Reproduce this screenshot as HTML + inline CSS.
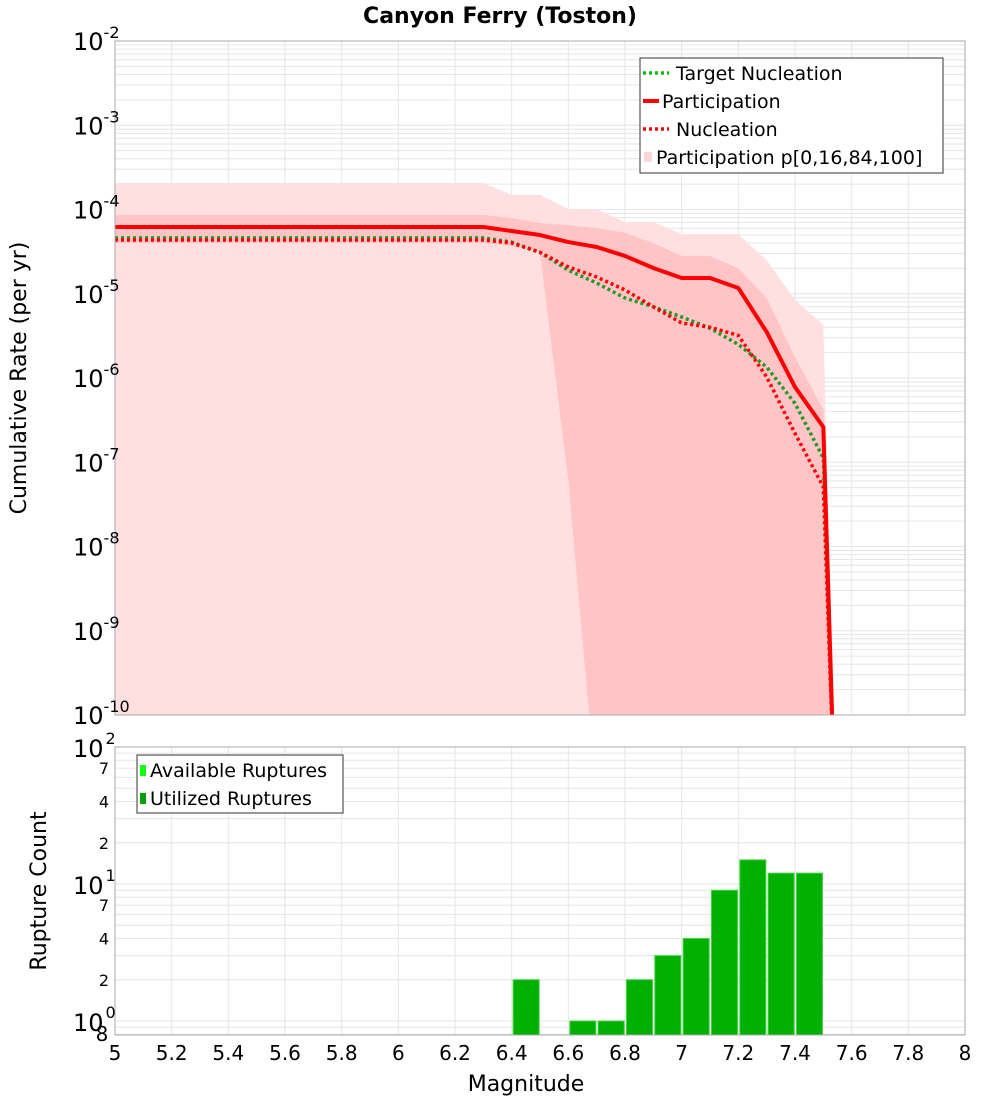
<!DOCTYPE html>
<html><head><meta charset="utf-8"><style>
body{margin:0;background:#fff;}
svg text{font-family:"DejaVu Sans","Liberation Sans",sans-serif;}
</style></head><body>
<svg id="c" width="1000" height="1100" viewBox="0 0 1000 1100" xmlns="http://www.w3.org/2000/svg"></svg>
<script>
const mags = [5.0,5.1,5.2,5.3,5.4,5.5,5.6,5.7,5.8,5.9,6.0,6.1,6.2,6.3,6.4,6.5,6.6,6.7,6.8,6.9,7.0,7.1,7.2,7.3,7.4,7.5,7.54];
const participation = [6.2e-5,6.2e-5,6.2e-5,6.2e-5,6.2e-5,6.2e-5,6.2e-5,6.2e-5,6.2e-5,6.2e-5,6.2e-5,6.2e-5,6.2e-5,6.2e-5,5.56e-5,4.98e-5,4.11e-5,3.59e-5,2.81e-5,2.02e-5,1.54e-5,1.54e-5,1.17e-5,3.52e-6,7.8e-7,2.62e-7,1e-11];
const targetNucleation = [4.6e-5,4.6e-5,4.6e-5,4.6e-5,4.6e-5,4.6e-5,4.6e-5,4.6e-5,4.6e-5,4.6e-5,4.6e-5,4.6e-5,4.6e-5,4.6e-5,4.1e-5,3.1e-5,1.9e-5,1.34e-5,8.9e-6,7.0e-6,5.3e-6,3.9e-6,2.5e-6,1.35e-6,5.0e-7,1.12e-7,1e-11];
const nucleation = [4.35e-5,4.35e-5,4.35e-5,4.35e-5,4.35e-5,4.35e-5,4.35e-5,4.35e-5,4.35e-5,4.35e-5,4.35e-5,4.35e-5,4.35e-5,4.35e-5,4.0e-5,3.1e-5,2.08e-5,1.58e-5,1.11e-5,7.0e-6,4.5e-6,4.0e-6,3.2e-6,1.03e-6,2.2e-7,5.1e-8,1e-11];
const p100 = [2.06e-4,2.06e-4,2.06e-4,2.06e-4,2.06e-4,2.06e-4,2.06e-4,2.06e-4,2.06e-4,2.06e-4,2.06e-4,2.06e-4,2.06e-4,2.06e-4,1.49e-4,1.49e-4,1.01e-4,1.01e-4,7.1e-5,7.1e-5,5.1e-5,5.1e-5,5.1e-5,2.5e-5,8.4e-6,4.3e-6,1e-11];
const p84 = [8.6e-5,8.6e-5,8.6e-5,8.6e-5,8.6e-5,8.6e-5,8.6e-5,8.6e-5,8.6e-5,8.6e-5,8.6e-5,8.6e-5,8.6e-5,8.6e-5,7.9e-5,6.9e-5,6.5e-5,6.0e-5,5.3e-5,4.0e-5,2.8e-5,2.8e-5,2.0e-5,8.9e-6,1.77e-6,4.2e-7,1e-11];
const p16 = [4.0e-5,4.0e-5,4.0e-5,4.0e-5,4.0e-5,4.0e-5,4.0e-5,4.0e-5,4.0e-5,4.0e-5,4.0e-5,4.0e-5,4.0e-5,4.0e-5,3.7e-5,3.1e-5,6.1e-8,1e-11,1e-11,1e-11,1e-11,1e-11,1e-11,1e-11,1e-11,1e-11,1e-11];
const p0 = [1e-11,1e-11,1e-11,1e-11,1e-11,1e-11,1e-11,1e-11,1e-11,1e-11,1e-11,1e-11,1e-11,1e-11,1e-11,1e-11,1e-11,1e-11,1e-11,1e-11,1e-11,1e-11,1e-11,1e-11,1e-11,1e-11,1e-11];
const barMags = [6.4,6.6,6.7,6.8,6.9,7.0,7.1,7.2,7.3,7.4];
const barCounts = [2,1,1,2,3,4,9,15,12,12];
const xTicks = [5,5.2,5.4,5.6,5.8,6,6.2,6.4,6.6,6.8,7,7.2,7.4,7.6,7.8,8];
const topDecades = [-2,-3,-4,-5,-6,-7,-8,-9,-10];
const botMinorLabels = [2,4,7,20,40,70];

const NS="http://www.w3.org/2000/svg", svg=document.getElementById('c');
function el(t,a,p){const e=document.createElementNS(NS,t);for(const k in a)e.setAttribute(k,a[k]);(p||svg).appendChild(e);return e;}
const L=115,R=965,T1=41,B1=715,T2=747,B2=1035;
const X=m=>L+(m-5)*(R-L)/3;
const Y1=v=>T1+(-2-Math.log10(v))*(B1-T1)/8;
const Y2=v=>1021-Math.log10(v)*137;

// clip paths
const defs=el('defs',{});
const c1=el('clipPath',{id:'c1'},defs);el('rect',{x:L,y:T1,width:R-L,height:B1-T1},c1);
const c2=el('clipPath',{id:'c2'},defs);el('rect',{x:L,y:T2,width:R-L,height:B2-T2},c2);

// grids
const g1=el('g',{'clip-path':'url(#c1)'});

for(let d=-10;d<-2;d++)for(let k=1;k<10;k++){const y=Y1(k*Math.pow(10,d));el('line',{x1:L,x2:R,y1:y,y2:y,stroke:'#e6e6e6','stroke-width':1},g1);}
xTicks.forEach(m=>el('line',{x1:X(m),x2:X(m),y1:T1,y2:B1,stroke:'#e6e6e6'},g1));
const g2=el('g',{'clip-path':'url(#c2)'});

for(let d=-1;d<2;d++)for(let k=1;k<10;k++){const y=Y2(k*Math.pow(10,d));el('line',{x1:L,x2:R,y1:y,y2:y,stroke:'#e6e6e6'},g2);}
xTicks.forEach(m=>el('line',{x1:X(m),x2:X(m),y1:T2,y2:B2,stroke:'#e6e6e6'},g2));

// bands
function band(up,lo,fill,name){let d='M'+mags.map((m,i)=>X(m)+','+Y1(up[i])).join('L');
 for(let i=mags.length-1;i>=0;i--)d+='L'+X(mags[i])+','+Y1(lo[i]);
 const p=el('path',{d:d+'Z',fill:fill},g1);}
band(p100,p0,'#ffdfe0','band-p0-p100');
band(p84,p16,'#ffc4c6','band-p16-p84');
function line(vals,col,w,dash,name){const p=el('path',{d:'M'+mags.map((m,i)=>X(m)+','+Y1(vals[i])).join('L'),fill:'none',stroke:col,'stroke-width':w,'stroke-linejoin':'round'},g1);
 if(dash)p.setAttribute('stroke-dasharray',dash);}
line(targetNucleation,'#229922',3.5,'3,3','target-nucleation-line');
line(nucleation,'#ff0000',3.5,'3,3','nucleation-line');
line(participation,'#ff0000',4,null,'participation-line');

// bars
barMags.forEach((m,i)=>{const y=Y2(barCounts[i]);const r=el('rect',{x:X(m)+1.5,y:y,width:26,height:B2-y,fill:'#00b000',stroke:'#44d044','stroke-width':1},g2);
 });

// frames
el('rect',{x:L,y:T1,width:R-L,height:B1-T1,fill:'none',stroke:'#aaa'});
el('rect',{x:L,y:T2,width:R-L,height:B2-T2,fill:'none',stroke:'#aaa'});

// top y labels
topDecades.forEach(d=>{const y=Y1(Math.pow(10,d));const t=el('text',{x:73,y:y+9,'font-size':24,fill:'#000'});t.textContent='10';
 const s=el('tspan',{'font-size':16,dy:-12},t);s.textContent=d;});
// bottom y labels
[0,1,2].forEach(d=>{const y=Y2(Math.pow(10,d));const t=el('text',{x:73,y:y+10,'font-size':24});t.textContent='10';
 const s=el('tspan',{'font-size':16,dx:2,dy:-13},t);s.textContent=d;});
botMinorLabels.forEach(v=>{const t=el('text',{x:104,y:Y2(v)+6,'font-size':16,'text-anchor':'middle'});t.textContent=String(v).charAt(0);});
{const t=el('text',{x:102,y:1041,'font-size':20,'text-anchor':'middle'});t.textContent='8';}
// x labels
xTicks.forEach(m=>{const t=el('text',{x:X(m),y:1060,'font-size':20,'text-anchor':'middle'});t.textContent=String(m);});

// titles
{let t=el('text',{x:500,y:23,'font-size':22,'font-weight':'bold','text-anchor':'middle'});t.textContent='Canyon Ferry (Toston)';
 t=el('text',{x:526,y:1091,'font-size':22,'text-anchor':'middle'});t.textContent='Magnitude';
 t=el('text',{x:0,y:0,'font-size':22,'text-anchor':'middle',transform:'translate(26,378) rotate(-90)'});t.textContent='Cumulative Rate (per yr)';
 t=el('text',{x:0,y:0,'font-size':22,'text-anchor':'middle',transform:'translate(46,891) rotate(-90)'});t.textContent='Rupture Count';}

// top legend
{const g=el('g',{});
 el('rect',{x:640,y:58,width:303,height:115,fill:'#fff',stroke:'#333'},g);
 const items=[['Target Nucleation','#11bb11','3,3',3.5,676],['Participation','#ff0000',null,4,662],['Nucleation','#ff0000','3,3',3.5,676],['Participation p[0,16,84,100]',null,null,0,656]];
 items.forEach((it,i)=>{const y=73+i*28;
  if(it[1]){const ln=el('line',{x1:643,x2:it[2]?669:659,y1:y,y2:y,stroke:it[1],'stroke-width':it[3]},g);if(it[2])ln.setAttribute('stroke-dasharray',it[2]);}
  else el('rect',{x:644,y:y-5,width:8,height:10,fill:'#ffd6d8'},g);
  const t=el('text',{x:it[4],y:y+7,'font-size':19},g);t.textContent=it[0];});}
// bottom legend
{const g=el('g',{});
 el('rect',{x:137,y:755,width:206,height:58,fill:'#fff',stroke:'#333'},g);
 [['Available Ruptures','#11ff11'],['Utilized Ruptures','#00a000']].forEach((it,i)=>{const y=770+i*28;
  el('rect',{x:140,y:y-5,width:6,height:11,fill:it[1]},g);
  const t=el('text',{x:150,y:y+7,'font-size':19},g);t.textContent=it[0];});}
</script>
</body></html>
